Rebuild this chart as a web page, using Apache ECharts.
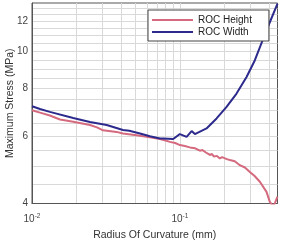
<!DOCTYPE html>
<html><head><meta charset="utf-8">
<script src="https://cdn.jsdelivr.net/npm/echarts@6/dist/echarts.min.js"></script>
<style>html,body{margin:0;padding:0;background:#fff}#c{width:282px;height:243px}</style>
</head><body><div id="c"></div>
<script>
// Radius of curvature (mm)
var heightX = [0.01, 0.01133, 0.0132, 0.01546, 0.019, 0.02465, 0.0275, 0.0302, 0.0373, 0.0412, 0.051, 0.0627, 0.0733, 0.08, 0.0856, 0.093, 0.1, 0.108, 0.1168, 0.127, 0.1365, 0.142, 0.15, 0.1595, 0.165, 0.17, 0.178, 0.1862, 0.193, 0.2, 0.21, 0.2177, 0.235, 0.2543, 0.275, 0.2972, 0.32, 0.3473, 0.3852, 0.4055, 0.4268, 0.44, 0.457];
var heightY = [7.02, 6.92, 6.8, 6.64, 6.55, 6.42, 6.33, 6.22, 6.16, 6.1, 6.04, 5.96, 5.9, 5.85, 5.8, 5.76, 5.69, 5.66, 5.61, 5.58, 5.5, 5.52, 5.44, 5.36, 5.39, 5.31, 5.33, 5.25, 5.29, 5.26, 5.22, 5.2, 5.16, 5.04, 4.97, 4.84, 4.72, 4.56, 4.29, 4.04, 3.93, 4.02, 4.17];
var widthX = [0.01, 0.01133, 0.0132, 0.019, 0.02465, 0.032, 0.0412, 0.0455, 0.0537, 0.0627, 0.0733, 0.0771, 0.0901, 0.1, 0.111, 0.12, 0.1263, 0.1514, 0.177, 0.2068, 0.2415, 0.2823, 0.3213, 0.3852, 0.457];
var widthY = [7.19, 7.07, 6.95, 6.7, 6.54, 6.42, 6.23, 6.2, 6.1, 6.0, 5.92, 5.92, 5.9, 6.08, 5.98, 6.19, 6.08, 6.29, 6.68, 7.16, 7.76, 8.58, 9.49, 11.37, 13.35];
var seriesNames = ['ROC Height', 'ROC Width'];
var xLabelValues = [0.01, 0.1];
var xGridValues = [0.01,0.02,0.03,0.04,0.05,0.06,0.07,0.08,0.09,0.1,0.2,0.3,0.4];
var yLabelValues = [4, 6, 8, 10, 12];
var yGridValues = [4,4.5,5,5.5,6,6.5,7,7.5,8,8.5,9,9.5,10,10.5,11,11.5,12,12.5,13];

function zip(a, b) { return a.map(function (v, i) { return [v, b[i]]; }); }
var font = 'Liberation Sans';
var chart = echarts.init(document.getElementById('c'));
chart.setOption({
  animation: false,
  textStyle: { fontFamily: font },
  grid: { left: 32, right: 4.5, top: 3, bottom: 39.5, show: true, borderColor: '#555', borderWidth: 1, containLabel: false, outerBoundsMode: 'none' },
  legend: {
    left: 148, top: 10, orient: 'vertical',
    data: seriesNames,
    icon: 'rect', itemWidth: 41, itemHeight: 2, itemGap: 2,
    backgroundColor: '#fff', borderColor: '#444', borderWidth: 1,
    padding: [5, 17, 4, 4],
    textStyle: { fontSize: 10, color: '#222', fontFamily: font }
  },
  xAxis: {
    type: 'log', logBase: 10, min: 0.01, max: 0.457,
    name: 'Radius Of Curvature (mm)', nameLocation: 'middle', nameGap: 26, nameMoveOverlap: false,
    nameTextStyle: { fontSize: 10.5, color: '#333', fontFamily: font },
    axisLine: { lineStyle: { color: '#555', width: 1 } },
    axisTick: { show: false, customValues: xGridValues },
    splitLine: { show: true, lineStyle: { color: '#d9d9d9', width: 1 } },
    axisLabel: {
      customValues: xLabelValues, margin: 9, color: '#444', fontSize: 10,
      formatter: function (v) { return '10{s|' + Math.round(Math.log10(v)) + '}'; },
      rich: { s: { fontSize: 6.5, verticalAlign: 'top', color: '#444', padding: [0, 0, 7, 0] } }
    }
  },
  yAxis: {
    type: 'log', logBase: 10, min: 4, max: 13.4,
    name: 'Maximum Stress (MPa)', nameLocation: 'middle', nameGap: 16, nameMoveOverlap: false,
    nameTextStyle: { fontSize: 10.5, color: '#333', fontFamily: font },
    axisLine: { show: true, lineStyle: { color: '#555', width: 1 } },
    axisTick: { show: false, customValues: yGridValues },
    splitLine: { show: true, lineStyle: { color: '#d9d9d9', width: 1 } },
    axisLabel: { customValues: yLabelValues, margin: 4, color: '#444', fontSize: 10 }
  },
  series: [
    { name: seriesNames[0], type: 'line', data: zip(heightX, heightY), symbol: 'none', color: '#d56a7f', lineStyle: { width: 2 } },
    { name: seriesNames[1], type: 'line', data: zip(widthX, widthY), symbol: 'none', color: '#2c2a8c', lineStyle: { width: 2 } }
  ]
});
</script></body></html>
